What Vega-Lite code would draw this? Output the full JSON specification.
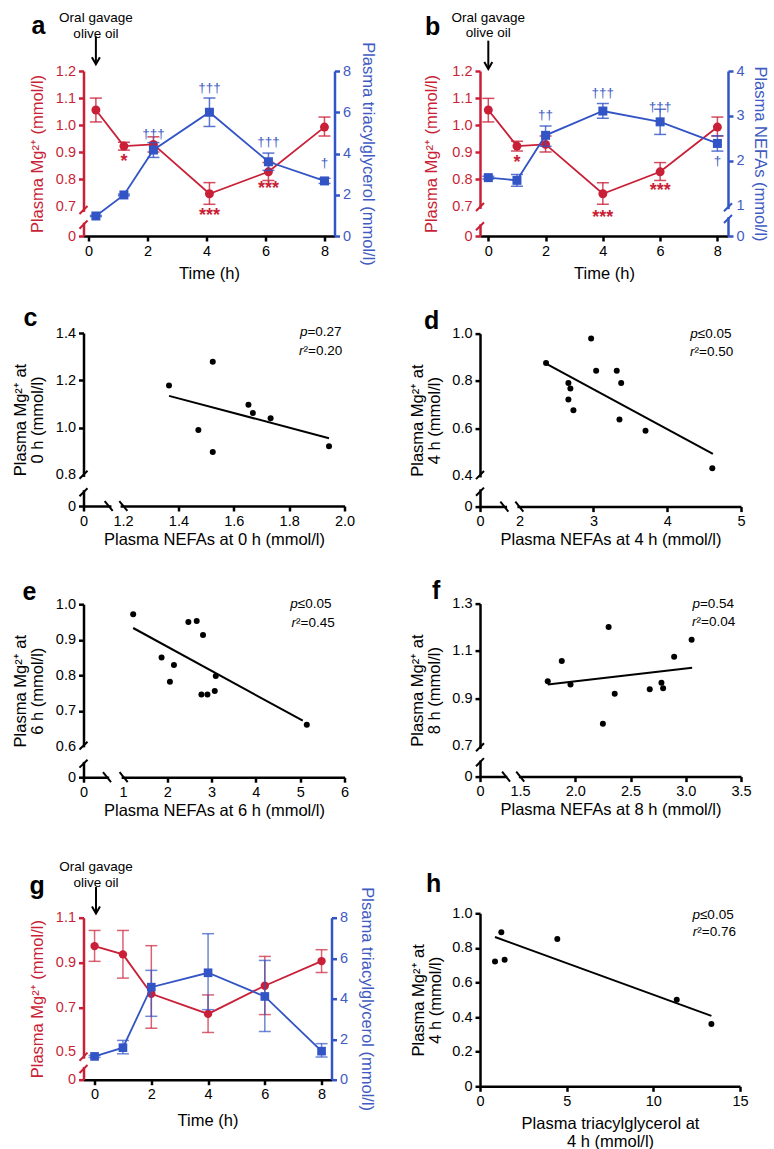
{
"$schema": "https://vega.github.io/schema/vega-lite/v6.json",
"padding": {"left": 12.5, "top": 10, "right": 2, "bottom": 2},
"config": {
  "font": "Liberation Sans",
  "view": {"stroke": null},
  "axis": {"grid": false, "domainWidth": 2.5, "tickWidth": 2.5, "tickSize": 5, "labelPadding": 3, "labelFontSize": 14.5, "titleFontSize": 16.5, "titleFontWeight": "normal", "labelFont": "Liberation Sans", "titleFont": "Liberation Sans", "domainColor": "black", "tickColor": "black", "labelColor": "black", "titleColor": "black", "labelFlush": false, "labelOverlap": false, "labelBound": false, "titleLineHeight": 17},
  "title": {"font": "Liberation Sans", "fontSize": 25, "fontWeight": "bold", "color": "black", "anchor": "start", "frame": "group", "baseline": "alphabetic"}
},
"datasets": {
  "a_mg": [{"t":0.25,"v":1.056,"lo":1.012,"hi":1.100},{"t":1.2,"v":0.923,"lo":0.908,"hi":0.937},{"t":2.2,"v":0.929,"lo":0.901,"hi":0.957},{"t":4.1,"v":0.747,"lo":0.708,"hi":0.788},{"t":6.1,"v":0.828,"lo":0.796,"hi":0.862},{"t":8.0,"v":0.993,"lo":0.960,"hi":1.030}],
  "a_tg": [{"t":0.25,"v":0.97,"lo":0.94,"hi":1.0},{"t":1.2,"v":1.99,"lo":1.95,"hi":2.03},{"t":2.2,"v":4.17,"lo":3.81,"hi":4.53},{"t":4.1,"v":6.0,"lo":5.31,"hi":6.69},{"t":6.1,"v":3.6,"lo":3.18,"hi":4.02},{"t":8.0,"v":2.67,"lo":2.55,"hi":2.8}],
  "a_star": [{"t":1.2,"y":0.865,"s":"*"},{"t":4.1,"y":0.664,"s":"***"},{"t":6.1,"y":0.763,"s":"***"}],
  "a_dag": [{"t":2.2,"y":4.93,"s":"†††"},{"t":4.1,"y":7.17,"s":"†††"},{"t":6.1,"y":4.58,"s":"†††"},{"t":8.0,"y":3.56,"s":"†"}],
  "b_mg": [{"t":0,"v":1.056,"lo":1.012,"hi":1.099},{"t":1,"v":0.923,"lo":0.905,"hi":0.941},{"t":2,"v":0.929,"lo":0.901,"hi":0.960},{"t":4,"v":0.747,"lo":0.708,"hi":0.788},{"t":6,"v":0.828,"lo":0.796,"hi":0.862},{"t":8,"v":0.993,"lo":0.960,"hi":1.030}],
  "b_nefa": [{"t":0,"v":1.63,"lo":1.60,"hi":1.66},{"t":1,"v":1.57,"lo":1.44,"hi":1.70},{"t":2,"v":2.57,"lo":2.33,"hi":2.78},{"t":4,"v":3.11,"lo":2.95,"hi":3.28},{"t":6,"v":2.87,"lo":2.59,"hi":3.15},{"t":8,"v":2.39,"lo":2.22,"hi":2.56}],
  "b_star": [{"t":1,"y":0.859,"s":"*"},{"t":4,"y":0.659,"s":"***"},{"t":6,"y":0.756,"s":"***"}],
  "b_dag": [{"t":2,"y":3.03,"s":"††"},{"t":4,"y":3.52,"s":"†††"},{"t":6,"y":3.21,"s":"†††"},{"t":8,"y":2.01,"s":"†"}],
  "c_pts": [{"x":1.366,"y":1.178},{"x":1.524,"y":1.278},{"x":1.653,"y":1.096},{"x":1.669,"y":1.061},{"x":1.733,"y":1.039},{"x":1.472,"y":0.990},{"x":1.524,"y":0.896},{"x":1.944,"y":0.921}],
  "c_fit": [{"x":1.366,"y":1.134},{"x":1.944,"y":0.955}],
  "d_pts": [{"x":2.358,"y":0.876},{"x":2.969,"y":0.979},{"x":3.037,"y":0.843},{"x":3.316,"y":0.843},{"x":3.376,"y":0.792},{"x":2.661,"y":0.792},{"x":2.688,"y":0.768},{"x":2.661,"y":0.722},{"x":2.729,"y":0.677},{"x":3.353,"y":0.638},{"x":3.706,"y":0.590},{"x":4.611,"y":0.432}],
  "d_fit": [{"x":2.358,"y":0.873},{"x":4.619,"y":0.492}],
  "e_pts": [{"x":1.231,"y":0.972},{"x":1.872,"y":0.850},{"x":2.151,"y":0.829},{"x":2.060,"y":0.782},{"x":2.477,"y":0.950},{"x":2.665,"y":0.953},{"x":2.807,"y":0.913},{"x":3.095,"y":0.798},{"x":3.072,"y":0.756},{"x":2.771,"y":0.746},{"x":2.907,"y":0.746},{"x":5.149,"y":0.661}],
  "e_fit": [{"x":1.231,"y":0.933},{"x":5.059,"y":0.672}],
  "f_pts": [{"x":1.751,"y":0.971},{"x":1.878,"y":1.057},{"x":1.957,"y":0.958},{"x":2.302,"y":1.201},{"x":2.357,"y":0.919},{"x":2.250,"y":0.792},{"x":2.674,"y":0.938},{"x":2.780,"y":0.965},{"x":2.795,"y":0.942},{"x":2.895,"y":1.075},{"x":3.053,"y":1.147}],
  "f_fit": [{"x":1.751,"y":0.958},{"x":3.058,"y":1.029}],
  "g_mg": [{"t":0,"v":0.973,"lo":0.905,"hi":1.043},{"t":1,"v":0.936,"lo":0.830,"hi":1.043},{"t":2,"v":0.760,"lo":0.606,"hi":0.975},{"t":4,"v":0.670,"lo":0.587,"hi":0.755},{"t":6,"v":0.796,"lo":0.667,"hi":0.927},{"t":8,"v":0.906,"lo":0.855,"hi":0.957}],
  "g_tg": [{"t":0,"v":1.15,"lo":1.10,"hi":1.20},{"t":1,"v":1.58,"lo":1.28,"hi":1.94},{"t":2,"v":4.57,"lo":3.13,"hi":5.40},{"t":4,"v":5.28,"lo":3.46,"hi":7.21},{"t":6,"v":4.11,"lo":2.38,"hi":5.89},{"t":8,"v":1.41,"lo":1.12,"hi":1.78}],
  "h_pts": [{"x":0.865,"y":0.721},{"x":1.23,"y":0.890},{"x":1.42,"y":0.732},{"x":4.46,"y":0.852},{"x":11.35,"y":0.500},{"x":13.35,"y":0.360}],
  "h_fit": [{"x":0.865,"y":0.863},{"x":13.35,"y":0.407}],
  "a_gap": [{"x1":-0.17,"x2":-0.17,"y1":0.640,"y2":0.680}],
  "a_sl": [{"x1":-0.306,"x2":-0.034,"y1":0.672,"y2":0.702},{"x1":-0.306,"x2":-0.034,"y1":0.618,"y2":0.648}],
  "b_gap": [{"x1":-0.29,"x2":-0.29,"y1":0.634,"y2":0.691}],
  "b_sl": [{"x1":-0.43,"x2":-0.15,"y1":0.683,"y2":0.713},{"x1":-0.43,"x2":-0.15,"y1":0.612,"y2":0.642}],
  "b_gapr": [{"x1":8.37,"x2":8.37,"y1":0.75,"y2":0.93}],
  "b_slr": [{"x1":8.23,"x2":8.51,"y1":0.882,"y2":1.06},{"x1":8.23,"x2":8.51,"y1":0.622,"y2":0.80}],
  "c_gap": [{"x1":1.057,"x2":1.057,"y1":0.735,"y2":0.791},{"x1":1.158,"x2":1.191,"y1":0.668,"y2":0.668}],
  "c_sl": [{"x1":1.0425,"x2":1.0715,"y1":0.783,"y2":0.817},{"x1":1.0425,"x2":1.0715,"y1":0.709,"y2":0.743},{"x1":1.1335,"x2":1.1625,"y1":0.689,"y2":0.647},{"x1":1.1865,"x2":1.2155,"y1":0.689,"y2":0.647}],
  "d_gap": [{"x1":1.463,"x2":1.463,"y1":0.343,"y2":0.393},{"x1":1.83,"x2":1.97,"y1":0.27,"y2":0.27}],
  "d_sl": [{"x1":1.409,"x2":1.517,"y1":0.386,"y2":0.420},{"x1":1.409,"x2":1.517,"y1":0.316,"y2":0.350},{"x1":1.739,"x2":1.847,"y1":0.291,"y2":0.249},{"x1":1.942,"x2":2.050,"y1":0.291,"y2":0.249}],
  "e_gap": [{"x1":0.11,"x2":0.11,"y1":0.556,"y2":0.597},{"x1":0.69,"x2":0.97,"y1":0.513,"y2":0.513}],
  "e_sl": [{"x1":0.019,"x2":0.201,"y1":0.591,"y2":0.613},{"x1":0.019,"x2":0.201,"y1":0.540,"y2":0.562},{"x1":0.549,"x2":0.731,"y1":0.527,"y2":0.499},{"x1":0.925,"x2":1.107,"y1":0.527,"y2":0.499}],
  "f_gap": [{"x1":1.138,"x2":1.138,"y1":0.636,"y2":0.685},{"x1":1.385,"x2":1.49,"y1":0.568,"y2":0.568}],
  "f_sl": [{"x1":1.102,"x2":1.174,"y1":0.675,"y2":0.709},{"x1":1.102,"x2":1.174,"y1":0.612,"y2":0.646},{"x1":1.338,"x2":1.410,"y1":0.589,"y2":0.547},{"x1":1.466,"x2":1.538,"y1":0.589,"y2":0.547}],
  "g_gap": [{"x1":-0.39,"x2":-0.39,"y1":0.433,"y2":0.470}],
  "g_sl": [{"x1":-0.531,"x2":-0.249,"y1":0.461,"y2":0.497},{"x1":-0.531,"x2":-0.249,"y1":0.406,"y2":0.442}]
},
"spacing": 32.5,
"hconcat": [
 {"spacing": 40.7, "vconcat": [
  {"spacing": 23, "vconcat": [
   {"width": 251, "height": 165,
    "title": {"text": "a", "dx": -52, "offset": -27.8},
    "resolve": {"scale": {"y": "independent"}},
    "layer": [
     {"layer": [
      {"data": {"name": "a_mg"}, "mark": {"type": "errorbar", "ticks": true, "size": 12, "thickness": 1.5, "color": "#C91F37", "opacity": 0.8},
       "encoding": {"x": {"field": "t", "type": "quantitative", "scale": {"domain": [-0.17, 8.34], "nice": false, "zero": false}, "axis": {"values": [0,2,4,6,8], "format": "d", "labelOverlap": false, "tickCount": 20, "title": "Time (h)", "titlePadding": 7.5}},
                    "y": {"field": "lo", "type": "quantitative", "scale": {"domain": [0.591, 1.2], "nice": false, "zero": false}, "axis": {"orient": "left", "values": [0.591,0.7,0.8,0.9,1.0,1.1,1.2], "labelOverlap": false, "tickCount": 20, "labelExpr": "datum.value < 0.65 ? '0' : format(datum.value, '.1f')", "tickOpacity": {"condition": {"test": "abs(datum.value - 0.7) < 0.001", "value": 0}, "value": 1}, "title": "Plasma Mg²⁺ (mmol/l)", "titlePadding": 10, "domainColor": "#C91F37", "tickColor": "#C91F37", "labelColor": "#C91F37", "titleColor": "#C91F37"}},
                    "y2": {"field": "hi"}}},
      {"data": {"name": "a_mg"}, "mark": {"type": "line", "color": "#C91F37", "strokeWidth": 1.8}, "encoding": {"x": {"field": "t", "type": "quantitative"}, "y": {"field": "v", "type": "quantitative"}}},
      {"data": {"name": "a_mg"}, "mark": {"type": "circle", "size": 80, "color": "#C91F37", "opacity": 1}, "encoding": {"x": {"field": "t", "type": "quantitative"}, "y": {"field": "v", "type": "quantitative"}}},
      {"data": {"name": "a_star"}, "mark": {"type": "text", "color": "#C91F37", "fontSize": 18, "fontWeight": "bold", "baseline": "middle"}, "encoding": {"x": {"field": "t", "type": "quantitative"}, "y": {"field": "y", "type": "quantitative"}, "text": {"field": "s"}}},
      {"data": {"values": [{}]}, "mark": {"type": "text", "lineBreak": "\n", "fontSize": 13.5, "lineHeight": 15.5, "align": "center", "baseline": "middle", "color": "black"}, "encoding": {"x": {"datum": 0.25}, "y": {"datum": 1.395}, "text": {"value": "Oral gavage\nolive oil"}}},
      {"data": {"values": [{}]}, "mark": {"type": "rule", "color": "black", "strokeWidth": 2}, "encoding": {"x": {"datum": 0.25}, "y": {"datum": 1.328}, "y2": {"datum": 1.23}}},
      {"data": {"values": [{}]}, "mark": {"type": "point", "shape": "M-0.8,-1.4L0,0L0.8,-1.4", "size": 100, "filled": false, "stroke": "black", "strokeWidth": 2, "opacity": 1}, "encoding": {"x": {"datum": 0.25}, "y": {"datum": 1.225}}},
      {"data": {"name": "a_gap"}, "mark": {"type": "rule", "color": "white", "strokeWidth": 6}, "encoding": {"x": {"field": "x1", "type": "quantitative"}, "x2": {"field": "x2"}, "y": {"field": "y1", "type": "quantitative"}, "y2": {"field": "y2"}}},
      {"data": {"name": "a_sl"}, "mark": {"type": "rule", "color": "#C91F37", "strokeWidth": 2}, "encoding": {"x": {"field": "x1", "type": "quantitative"}, "x2": {"field": "x2"}, "y": {"field": "y1", "type": "quantitative"}, "y2": {"field": "y2"}}}
     ]},
     {"layer": [
      {"data": {"name": "a_tg"}, "mark": {"type": "errorbar", "ticks": true, "size": 12, "thickness": 1.5, "color": "#3254C5", "opacity": 0.8},
       "encoding": {"x": {"field": "t", "type": "quantitative"},
                    "y": {"field": "lo", "type": "quantitative", "scale": {"domain": [0, 8], "nice": false, "zero": false}, "axis": {"orient": "right", "values": [0,2,4,6,8], "format": "d", "labelOverlap": false, "tickCount": 20, "title": "Plasma triacylglycerol (mmol/l)", "titlePadding": 9, "domainColor": "#3254C5", "tickColor": "#3254C5", "labelColor": "#3F5BC2", "titleColor": "#3F5BC2"}},
                    "y2": {"field": "hi"}}},
      {"data": {"name": "a_tg"}, "mark": {"type": "line", "color": "#3254C5", "strokeWidth": 1.8}, "encoding": {"x": {"field": "t", "type": "quantitative"}, "y": {"field": "v", "type": "quantitative"}}},
      {"data": {"name": "a_tg"}, "mark": {"type": "square", "size": 81, "color": "#3254C5", "opacity": 1}, "encoding": {"x": {"field": "t", "type": "quantitative"}, "y": {"field": "v", "type": "quantitative"}}},
      {"data": {"name": "a_dag"}, "mark": {"type": "text", "color": "#3F5BC2", "fontSize": 13.5, "baseline": "middle"}, "encoding": {"x": {"field": "t", "type": "quantitative"}, "y": {"field": "y", "type": "quantitative"}, "text": {"field": "s"}}}
     ]}
    ]},
   {"spacing": 31.2, "vconcat": [
    {"width": 261, "height": 173,
     "title": {"text": "c", "dx": -60, "offset": -5.7},
     "layer": [
      {"data": {"name": "c_pts"}, "mark": {"type": "circle", "size": 36, "color": "black", "opacity": 1},
       "encoding": {"x": {"field": "x", "type": "quantitative", "scale": {"domain": [1.057, 2.0], "nice": false, "zero": false}, "axis": {"values": [1.057,1.2,1.4,1.6,1.8,2.0], "labelOverlap": false, "tickCount": 20, "labelExpr": "datum.value < 1.1 ? '0' : format(datum.value, '.1f')", "tickOpacity": {"condition": {"test": "abs(datum.value - 1.2) < 0.001", "value": 0}, "value": 1}, "title": "Plasma NEFAs at 0 h (mmol/l)", "titlePadding": 3.5}},
                    "y": {"field": "y", "type": "quantitative", "scale": {"domain": [0.668, 1.4], "nice": false, "zero": false}, "axis": {"values": [0.668,0.8,1.0,1.2,1.4], "labelOverlap": false, "tickCount": 20, "labelExpr": "datum.value < 0.7 ? '0' : format(datum.value, '.1f')", "tickOpacity": {"condition": {"test": "abs(datum.value - 0.8) < 0.001", "value": 0}, "value": 1}, "title": ["Plasma Mg²⁺ at", "0 h (mmol/l)"], "titlePadding": 9.5}}}},
      {"data": {"name": "c_fit"}, "mark": {"type": "line", "color": "black", "strokeWidth": 2}, "encoding": {"x": {"field": "x", "type": "quantitative"}, "y": {"field": "y", "type": "quantitative"}}},
      {"data": {"name": "c_gap"}, "mark": {"type": "rule", "color": "white", "strokeWidth": 6}, "encoding": {"x": {"field": "x1", "type": "quantitative"}, "x2": {"field": "x2"}, "y": {"field": "y1", "type": "quantitative"}, "y2": {"field": "y2"}}},
      {"data": {"name": "c_sl"}, "mark": {"type": "rule", "color": "black", "strokeWidth": 2}, "encoding": {"x": {"field": "x1", "type": "quantitative"}, "x2": {"field": "x2"}, "y": {"field": "y1", "type": "quantitative"}, "y2": {"field": "y2"}}},
      {"data": {"values": [{}]}, "mark": {"type": "text", "fontSize": 13.5, "fontStyle": "italic", "align": "right", "baseline": "middle"}, "encoding": {"x": {"datum": 1.866}, "y": {"datum": 1.404}, "text": {"value": "p"}}},
      {"data": {"values": [{}]}, "mark": {"type": "text", "fontSize": 13.5, "align": "left", "baseline": "middle"}, "encoding": {"x": {"datum": 1.866}, "y": {"datum": 1.404}, "text": {"value": "=0.27"}}},
      {"data": {"values": [{}]}, "mark": {"type": "text", "fontSize": 13.5, "fontStyle": "italic", "align": "right", "baseline": "middle"}, "encoding": {"x": {"datum": 1.852}, "y": {"datum": 1.325}, "text": {"value": "r"}}},
      {"data": {"values": [{}]}, "mark": {"type": "text", "fontSize": 13.5, "align": "left", "baseline": "middle"}, "encoding": {"x": {"datum": 1.852}, "y": {"datum": 1.325}, "text": {"value": "²=0.20"}}}
     ]},
    {"width": 261, "height": 173,
     "title": {"text": "e", "dx": -61, "offset": -8.7},
     "layer": [
      {"data": {"name": "e_pts"}, "mark": {"type": "circle", "size": 36, "color": "black", "opacity": 1},
       "encoding": {"x": {"field": "x", "type": "quantitative", "scale": {"domain": [0.11, 6], "nice": false, "zero": false}, "axis": {"values": [0.11,1,2,3,4,5,6], "labelOverlap": false, "tickCount": 20, "labelExpr": "datum.value < 0.5 ? '0' : format(datum.value, 'd')", "tickOpacity": {"condition": {"test": "abs(datum.value - 1) < 0.001", "value": 0}, "value": 1}, "title": "Plasma NEFAs at 6 h (mmol/l)", "titlePadding": 3.5}},
                    "y": {"field": "y", "type": "quantitative", "scale": {"domain": [0.513, 1.0], "nice": false, "zero": false}, "axis": {"values": [0.513,0.6,0.7,0.8,0.9,1.0], "labelOverlap": false, "tickCount": 20, "labelExpr": "datum.value < 0.55 ? '0' : format(datum.value, '.1f')", "tickOpacity": {"condition": {"test": "abs(datum.value - 0.6) < 0.001", "value": 0}, "value": 1}, "title": ["Plasma Mg²⁺ at", "6 h (mmol/l)"], "titlePadding": 9.5}}}},
      {"data": {"name": "e_fit"}, "mark": {"type": "line", "color": "black", "strokeWidth": 2}, "encoding": {"x": {"field": "x", "type": "quantitative"}, "y": {"field": "y", "type": "quantitative"}}},
      {"data": {"name": "e_gap"}, "mark": {"type": "rule", "color": "white", "strokeWidth": 6}, "encoding": {"x": {"field": "x1", "type": "quantitative"}, "x2": {"field": "x2"}, "y": {"field": "y1", "type": "quantitative"}, "y2": {"field": "y2"}}},
      {"data": {"name": "e_sl"}, "mark": {"type": "rule", "color": "black", "strokeWidth": 2}, "encoding": {"x": {"field": "x1", "type": "quantitative"}, "x2": {"field": "x2"}, "y": {"field": "y1", "type": "quantitative"}, "y2": {"field": "y2"}}},
      {"data": {"values": [{}]}, "mark": {"type": "text", "fontSize": 13.5, "fontStyle": "italic", "align": "right", "baseline": "middle"}, "encoding": {"x": {"datum": 4.945}, "y": {"datum": 1.0}, "text": {"value": "p"}}},
      {"data": {"values": [{}]}, "mark": {"type": "text", "fontSize": 13.5, "align": "left", "baseline": "middle"}, "encoding": {"x": {"datum": 4.945}, "y": {"datum": 1.0}, "text": {"value": "≤0.05"}}},
      {"data": {"values": [{}]}, "mark": {"type": "text", "fontSize": 13.5, "fontStyle": "italic", "align": "right", "baseline": "middle"}, "encoding": {"x": {"datum": 4.907}, "y": {"datum": 0.948}, "text": {"value": "r"}}},
      {"data": {"values": [{}]}, "mark": {"type": "text", "fontSize": 13.5, "align": "left", "baseline": "middle"}, "encoding": {"x": {"datum": 4.907}, "y": {"datum": 0.948}, "text": {"value": "²=0.45"}}}
     ]}
   ]}
  ]},
  {"width": 248, "height": 162,
   "title": {"text": "g", "dx": -54, "offset": -38.9},
   "resolve": {"scale": {"y": "independent"}},
   "layer": [
    {"layer": [
     {"data": {"name": "g_mg"}, "mark": {"type": "errorbar", "ticks": true, "size": 12, "thickness": 1.5, "color": "#C91F37", "opacity": 0.7},
      "encoding": {"x": {"field": "t", "type": "quantitative", "scale": {"domain": [-0.39, 8.35], "nice": false, "zero": false}, "axis": {"values": [0,2,4,6,8], "format": "d", "labelOverlap": false, "tickCount": 20, "title": "Time (h)", "titlePadding": 11}},
                   "y": {"field": "lo", "type": "quantitative", "scale": {"domain": [0.376, 1.1], "nice": false, "zero": false}, "axis": {"orient": "left", "values": [0.376,0.5,0.7,0.9,1.1], "labelOverlap": false, "tickCount": 20, "labelExpr": "datum.value < 0.45 ? '0' : format(datum.value, '.1f')", "tickOpacity": {"condition": {"test": "abs(datum.value - 0.5) < 0.001", "value": 0}, "value": 1}, "title": "Plasma Mg²⁺ (mmol/l)", "titlePadding": 10, "domainColor": "#C91F37", "tickColor": "#C91F37", "labelColor": "#C91F37", "titleColor": "#C91F37"}},
                   "y2": {"field": "hi"}}},
     {"data": {"name": "g_mg"}, "mark": {"type": "line", "color": "#C91F37", "strokeWidth": 1.8}, "encoding": {"x": {"field": "t", "type": "quantitative"}, "y": {"field": "v", "type": "quantitative"}}},
     {"data": {"name": "g_mg"}, "mark": {"type": "circle", "size": 70, "color": "#C91F37", "opacity": 1}, "encoding": {"x": {"field": "t", "type": "quantitative"}, "y": {"field": "v", "type": "quantitative"}}},
     {"data": {"values": [{}]}, "mark": {"type": "text", "lineBreak": "\n", "fontSize": 13.5, "lineHeight": 15.5, "align": "center", "baseline": "middle", "color": "black"}, "encoding": {"x": {"datum": 0.05}, "y": {"datum": 1.326}, "text": {"value": "Oral gavage\nolive oil"}}},
     {"data": {"values": [{}]}, "mark": {"type": "rule", "color": "black", "strokeWidth": 2}, "encoding": {"x": {"datum": 0.05}, "y": {"datum": 1.237}, "y2": {"datum": 1.124}}},
     {"data": {"values": [{}]}, "mark": {"type": "point", "shape": "M-0.8,-1.4L0,0L0.8,-1.4", "size": 100, "filled": false, "stroke": "black", "strokeWidth": 2, "opacity": 1}, "encoding": {"x": {"datum": 0.05}, "y": {"datum": 1.119}}},
     {"data": {"name": "g_gap"}, "mark": {"type": "rule", "color": "white", "strokeWidth": 6}, "encoding": {"x": {"field": "x1", "type": "quantitative"}, "x2": {"field": "x2"}, "y": {"field": "y1", "type": "quantitative"}, "y2": {"field": "y2"}}},
     {"data": {"name": "g_sl"}, "mark": {"type": "rule", "color": "#C91F37", "strokeWidth": 2}, "encoding": {"x": {"field": "x1", "type": "quantitative"}, "x2": {"field": "x2"}, "y": {"field": "y1", "type": "quantitative"}, "y2": {"field": "y2"}}}
    ]},
    {"layer": [
     {"data": {"name": "g_tg"}, "mark": {"type": "errorbar", "ticks": true, "size": 12, "thickness": 1.5, "color": "#3254C5", "opacity": 0.7},
      "encoding": {"x": {"field": "t", "type": "quantitative"},
                   "y": {"field": "lo", "type": "quantitative", "scale": {"domain": [0, 8], "nice": false, "zero": false}, "axis": {"orient": "right", "values": [0,2,4,6,8], "format": "d", "labelOverlap": false, "tickCount": 20, "title": "Plsama triacylglycerol (mmol/l)", "titlePadding": 10.5, "domainColor": "#3254C5", "tickColor": "#3254C5", "labelColor": "#3F5BC2", "titleColor": "#3F5BC2"}},
                   "y2": {"field": "hi"}}},
     {"data": {"name": "g_tg"}, "mark": {"type": "line", "color": "#3254C5", "strokeWidth": 1.8}, "encoding": {"x": {"field": "t", "type": "quantitative"}, "y": {"field": "v", "type": "quantitative"}}},
     {"data": {"name": "g_tg"}, "mark": {"type": "square", "size": 75, "color": "#3254C5", "opacity": 1}, "encoding": {"x": {"field": "t", "type": "quantitative"}, "y": {"field": "v", "type": "quantitative"}}}
    ]}
   ]}
 ]},
 {"spacing": 52.3, "vconcat": [
  {"spacing": 26.6, "vconcat": [
   {"width": 248, "height": 165,
    "title": {"text": "b", "dx": -55, "offset": -28.9},
    "resolve": {"scale": {"y": "independent"}},
    "layer": [
     {"layer": [
      {"data": {"name": "b_mg"}, "mark": {"type": "errorbar", "ticks": true, "size": 12, "thickness": 1.5, "color": "#C91F37", "opacity": 0.8},
       "encoding": {"x": {"field": "t", "type": "quantitative", "scale": {"domain": [-0.29, 8.37], "nice": false, "zero": false}, "axis": {"values": [0,2,4,6,8], "format": "d", "labelOverlap": false, "tickCount": 20, "title": "Time (h)", "titlePadding": 7.5}},
                    "y": {"field": "lo", "type": "quantitative", "scale": {"domain": [0.591, 1.2], "nice": false, "zero": false}, "axis": {"orient": "left", "values": [0.591,0.7,0.8,0.9,1.0,1.1,1.2], "labelOverlap": false, "tickCount": 20, "labelExpr": "datum.value < 0.65 ? '0' : format(datum.value, '.1f')", "tickOpacity": {"condition": {"test": "abs(datum.value - 0.7) < 0.001", "value": 0}, "value": 1}, "title": "Plasma Mg²⁺ (mmol/l)", "titlePadding": 12, "domainColor": "#C91F37", "tickColor": "#C91F37", "labelColor": "#C91F37", "titleColor": "#C91F37"}},
                    "y2": {"field": "hi"}}},
      {"data": {"name": "b_mg"}, "mark": {"type": "line", "color": "#C91F37", "strokeWidth": 1.8}, "encoding": {"x": {"field": "t", "type": "quantitative"}, "y": {"field": "v", "type": "quantitative"}}},
      {"data": {"name": "b_mg"}, "mark": {"type": "circle", "size": 80, "color": "#C91F37", "opacity": 1}, "encoding": {"x": {"field": "t", "type": "quantitative"}, "y": {"field": "v", "type": "quantitative"}}},
      {"data": {"name": "b_star"}, "mark": {"type": "text", "color": "#C91F37", "fontSize": 18, "fontWeight": "bold", "baseline": "middle"}, "encoding": {"x": {"field": "t", "type": "quantitative"}, "y": {"field": "y", "type": "quantitative"}, "text": {"field": "s"}}},
      {"data": {"values": [{}]}, "mark": {"type": "text", "lineBreak": "\n", "fontSize": 13.5, "lineHeight": 15.5, "align": "center", "baseline": "middle", "color": "black"}, "encoding": {"x": {"datum": 0}, "y": {"datum": 1.397}, "text": {"value": "Oral gavage\nolive oil"}}},
      {"data": {"values": [{}]}, "mark": {"type": "rule", "color": "black", "strokeWidth": 2}, "encoding": {"x": {"datum": 0}, "y": {"datum": 1.312}, "y2": {"datum": 1.212}}},
      {"data": {"values": [{}]}, "mark": {"type": "point", "shape": "M-0.8,-1.4L0,0L0.8,-1.4", "size": 100, "filled": false, "stroke": "black", "strokeWidth": 2, "opacity": 1}, "encoding": {"x": {"datum": 0}, "y": {"datum": 1.207}}},
      {"data": {"name": "b_gap"}, "mark": {"type": "rule", "color": "white", "strokeWidth": 6}, "encoding": {"x": {"field": "x1", "type": "quantitative"}, "x2": {"field": "x2"}, "y": {"field": "y1", "type": "quantitative"}, "y2": {"field": "y2"}}},
      {"data": {"name": "b_sl"}, "mark": {"type": "rule", "color": "#C91F37", "strokeWidth": 2}, "encoding": {"x": {"field": "x1", "type": "quantitative"}, "x2": {"field": "x2"}, "y": {"field": "y1", "type": "quantitative"}, "y2": {"field": "y2"}}}
     ]},
     {"layer": [
      {"data": {"name": "b_nefa"}, "mark": {"type": "errorbar", "ticks": true, "size": 12, "thickness": 1.5, "color": "#3254C5", "opacity": 0.8},
       "encoding": {"x": {"field": "t", "type": "quantitative"},
                    "y": {"field": "lo", "type": "quantitative", "scale": {"domain": [0.333, 4], "nice": false, "zero": false}, "axis": {"orient": "right", "values": [0.333,1,2,3,4], "labelOverlap": false, "tickCount": 20, "labelExpr": "datum.value < 0.5 ? '0' : format(datum.value, 'd')", "tickOpacity": {"condition": {"test": "abs(datum.value - 1) < 0.001", "value": 0}, "value": 1}, "title": "Plasma NEFAs (mmol/l)", "titlePadding": 7.5, "domainColor": "#3254C5", "tickColor": "#3254C5", "labelColor": "#3F5BC2", "titleColor": "#3F5BC2"}},
                    "y2": {"field": "hi"}}},
      {"data": {"name": "b_nefa"}, "mark": {"type": "line", "color": "#3254C5", "strokeWidth": 1.8}, "encoding": {"x": {"field": "t", "type": "quantitative"}, "y": {"field": "v", "type": "quantitative"}}},
      {"data": {"name": "b_nefa"}, "mark": {"type": "square", "size": 81, "color": "#3254C5", "opacity": 1}, "encoding": {"x": {"field": "t", "type": "quantitative"}, "y": {"field": "v", "type": "quantitative"}}},
      {"data": {"name": "b_dag"}, "mark": {"type": "text", "color": "#3F5BC2", "fontSize": 13.5, "baseline": "middle"}, "encoding": {"x": {"field": "t", "type": "quantitative"}, "y": {"field": "y", "type": "quantitative"}, "text": {"field": "s"}}},
      {"data": {"name": "b_gapr"}, "mark": {"type": "rule", "color": "white", "strokeWidth": 6}, "encoding": {"x": {"field": "x1", "type": "quantitative"}, "x2": {"field": "x2"}, "y": {"field": "y1", "type": "quantitative"}, "y2": {"field": "y2"}}},
      {"data": {"name": "b_slr"}, "mark": {"type": "rule", "color": "#3254C5", "strokeWidth": 2}, "encoding": {"x": {"field": "x1", "type": "quantitative"}, "x2": {"field": "x2"}, "y": {"field": "y1", "type": "quantitative"}, "y2": {"field": "y2"}}}
     ]}
    ]},
   {"spacing": 30, "vconcat": [
    {"width": 261, "height": 173,
     "title": {"text": "d", "dx": -56, "offset": -8.7},
     "layer": [
      {"data": {"name": "d_pts"}, "mark": {"type": "circle", "size": 36, "color": "black", "opacity": 1},
       "encoding": {"x": {"field": "x", "type": "quantitative", "scale": {"domain": [1.463, 5], "nice": false, "zero": false}, "axis": {"values": [1.463,2,3,4,5], "labelOverlap": false, "tickCount": 20, "labelExpr": "datum.value < 1.5 ? '0' : format(datum.value, 'd')", "tickOpacity": {"condition": {"test": "abs(datum.value - 2) < 0.001", "value": 0}, "value": 1}, "title": "Plasma NEFAs at 4 h (mmol/l)", "titlePadding": 3.5}},
                    "y": {"field": "y", "type": "quantitative", "scale": {"domain": [0.27, 1.0], "nice": false, "zero": false}, "axis": {"values": [0.27,0.4,0.6,0.8,1.0], "labelOverlap": false, "tickCount": 20, "labelExpr": "datum.value < 0.3 ? '0' : format(datum.value, '.1f')", "tickOpacity": {"condition": {"test": "abs(datum.value - 0.4) < 0.001", "value": 0}, "value": 1}, "title": ["Plasma Mg²⁺ at", "4 h (mmol/l)"], "titlePadding": 9.5}}}},
      {"data": {"name": "d_fit"}, "mark": {"type": "line", "color": "black", "strokeWidth": 2}, "encoding": {"x": {"field": "x", "type": "quantitative"}, "y": {"field": "y", "type": "quantitative"}}},
      {"data": {"name": "d_gap"}, "mark": {"type": "rule", "color": "white", "strokeWidth": 6}, "encoding": {"x": {"field": "x1", "type": "quantitative"}, "x2": {"field": "x2"}, "y": {"field": "y1", "type": "quantitative"}, "y2": {"field": "y2"}}},
      {"data": {"name": "d_sl"}, "mark": {"type": "rule", "color": "black", "strokeWidth": 2}, "encoding": {"x": {"field": "x1", "type": "quantitative"}, "x2": {"field": "x2"}, "y": {"field": "y1", "type": "quantitative"}, "y2": {"field": "y2"}}},
      {"data": {"values": [{}]}, "mark": {"type": "text", "fontSize": 13.5, "fontStyle": "italic", "align": "right", "baseline": "middle"}, "encoding": {"x": {"datum": 4.415}, "y": {"datum": 1.0}, "text": {"value": "p"}}},
      {"data": {"values": [{}]}, "mark": {"type": "text", "fontSize": 13.5, "align": "left", "baseline": "middle"}, "encoding": {"x": {"datum": 4.415}, "y": {"datum": 1.0}, "text": {"value": "≤0.05"}}},
      {"data": {"values": [{}]}, "mark": {"type": "text", "fontSize": 13.5, "fontStyle": "italic", "align": "right", "baseline": "middle"}, "encoding": {"x": {"datum": 4.37}, "y": {"datum": 0.923}, "text": {"value": "r"}}},
      {"data": {"values": [{}]}, "mark": {"type": "text", "fontSize": 13.5, "align": "left", "baseline": "middle"}, "encoding": {"x": {"datum": 4.37}, "y": {"datum": 0.923}, "text": {"value": "²=0.50"}}}
     ]},
    {"width": 261, "height": 173,
     "title": {"text": "f", "dx": -48, "offset": -8.7},
     "layer": [
      {"data": {"name": "f_pts"}, "mark": {"type": "circle", "size": 36, "color": "black", "opacity": 1},
       "encoding": {"x": {"field": "x", "type": "quantitative", "scale": {"domain": [1.138, 3.5], "nice": false, "zero": false}, "axis": {"values": [1.138,1.5,2.0,2.5,3.0,3.5], "labelOverlap": false, "tickCount": 20, "labelExpr": "datum.value < 1.2 ? '0' : format(datum.value, '.1f')", "tickOpacity": {"condition": {"test": "abs(datum.value - 1.5) < 0.001", "value": 0}, "value": 1}, "title": "Plasma NEFAs at 8 h (mmol/l)", "titlePadding": 3.5}},
                    "y": {"field": "y", "type": "quantitative", "scale": {"domain": [0.568, 1.3], "nice": false, "zero": false}, "axis": {"values": [0.568,0.7,0.9,1.1,1.3], "labelOverlap": false, "tickCount": 20, "labelExpr": "datum.value < 0.6 ? '0' : format(datum.value, '.1f')", "tickOpacity": {"condition": {"test": "abs(datum.value - 0.7) < 0.001", "value": 0}, "value": 1}, "title": ["Plasma Mg²⁺ at", "8 h (mmol/l)"], "titlePadding": 9.5}}}},
      {"data": {"name": "f_fit"}, "mark": {"type": "line", "color": "black", "strokeWidth": 2}, "encoding": {"x": {"field": "x", "type": "quantitative"}, "y": {"field": "y", "type": "quantitative"}}},
      {"data": {"name": "f_gap"}, "mark": {"type": "rule", "color": "white", "strokeWidth": 6}, "encoding": {"x": {"field": "x1", "type": "quantitative"}, "x2": {"field": "x2"}, "y": {"field": "y1", "type": "quantitative"}, "y2": {"field": "y2"}}},
      {"data": {"name": "f_sl"}, "mark": {"type": "rule", "color": "black", "strokeWidth": 2}, "encoding": {"x": {"field": "x1", "type": "quantitative"}, "x2": {"field": "x2"}, "y": {"field": "y1", "type": "quantitative"}, "y2": {"field": "y2"}}},
      {"data": {"values": [{}]}, "mark": {"type": "text", "fontSize": 13.5, "fontStyle": "italic", "align": "right", "baseline": "middle"}, "encoding": {"x": {"datum": 3.128}, "y": {"datum": 1.3}, "text": {"value": "p"}}},
      {"data": {"values": [{}]}, "mark": {"type": "text", "fontSize": 13.5, "align": "left", "baseline": "middle"}, "encoding": {"x": {"datum": 3.128}, "y": {"datum": 1.3}, "text": {"value": "=0.54"}}},
      {"data": {"values": [{}]}, "mark": {"type": "text", "fontSize": 13.5, "fontStyle": "italic", "align": "right", "baseline": "middle"}, "encoding": {"x": {"datum": 3.098}, "y": {"datum": 1.222}, "text": {"value": "r"}}},
      {"data": {"values": [{}]}, "mark": {"type": "text", "fontSize": 13.5, "align": "left", "baseline": "middle"}, "encoding": {"x": {"datum": 3.098}, "y": {"datum": 1.222}, "text": {"value": "²=0.04"}}}
     ]}
   ]}
  ]},
  {"width": 260, "height": 173,
   "title": {"text": "h", "dx": -54, "offset": 8.75},
   "layer": [
    {"data": {"name": "h_pts"}, "mark": {"type": "circle", "size": 36, "color": "black", "opacity": 1},
     "encoding": {"x": {"field": "x", "type": "quantitative", "scale": {"domain": [0, 15], "nice": false, "zero": false}, "axis": {"values": [0,5,10,15], "format": "d", "labelOverlap": false, "tickCount": 20, "title": ["Plasma triacylglycerol at", "4 h (mmol/l)"], "titlePadding": 7.5, "titleLineHeight": 18}},
                  "y": {"field": "y", "type": "quantitative", "scale": {"domain": [0, 1.0], "nice": false, "zero": false}, "axis": {"values": [0,0.2,0.4,0.6,0.8,1.0], "labelOverlap": false, "tickCount": 20, "labelExpr": "datum.value == 0 ? '0' : format(datum.value, '.1f')", "title": ["Plasma Mg²⁺ at", "4 h (mmol/l)"], "titlePadding": 8.6}}}},
    {"data": {"name": "h_fit"}, "mark": {"type": "line", "color": "black", "strokeWidth": 2}, "encoding": {"x": {"field": "x", "type": "quantitative"}, "y": {"field": "y", "type": "quantitative"}}},
    {"data": {"values": [{}]}, "mark": {"type": "text", "fontSize": 13.5, "fontStyle": "italic", "align": "right", "baseline": "middle"}, "encoding": {"x": {"datum": 12.69}, "y": {"datum": 0.992}, "text": {"value": "p"}}},
    {"data": {"values": [{}]}, "mark": {"type": "text", "fontSize": 13.5, "align": "left", "baseline": "middle"}, "encoding": {"x": {"datum": 12.69}, "y": {"datum": 0.992}, "text": {"value": "≤0.05"}}},
    {"data": {"values": [{}]}, "mark": {"type": "text", "fontSize": 13.5, "fontStyle": "italic", "align": "right", "baseline": "middle"}, "encoding": {"x": {"datum": 12.54}, "y": {"datum": 0.89}, "text": {"value": "r"}}},
    {"data": {"values": [{}]}, "mark": {"type": "text", "fontSize": 13.5, "align": "left", "baseline": "middle"}, "encoding": {"x": {"datum": 12.54}, "y": {"datum": 0.89}, "text": {"value": "²=0.76"}}}
   ]}
 ]}
]
}
